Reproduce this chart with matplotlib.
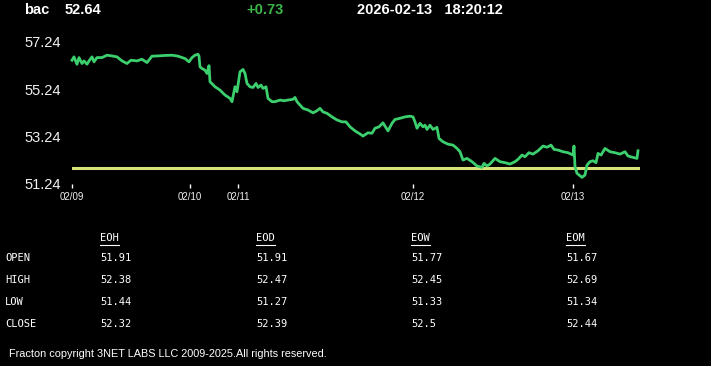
import matplotlib
matplotlib.use('Agg')
import matplotlib.pyplot as plt
from matplotlib.lines import Line2D

W, H = 711, 366

# Price trace (bar index, price)
BARS = [0, 2, 5, 7, 10, 12, 15, 17, 20, 22, 25, 30, 35, 40, 45, 50, 55, 59, 65, 70,
        75, 80, 86, 93, 100, 106, 113, 117, 120, 123, 126, 127, 128, 130, 133, 135, 137, 138, 143, 148,
        153, 158, 160, 163, 165, 168, 171, 173, 175, 178, 181, 184, 186, 189, 191, 194, 196, 200, 203, 208,
        212, 216, 221, 223, 225, 228, 231, 236, 241, 245, 248, 251, 255, 260, 265, 270, 274, 278, 283, 288,
        291, 296, 300, 303, 307, 311, 313, 316, 320, 323, 328, 333, 338, 341, 343, 345, 348, 351, 353, 355,
        358, 361, 365, 367, 371, 376, 381, 385, 388, 391, 395, 400, 405, 410, 412, 415, 418, 423, 428, 433,
        438, 443, 446, 450, 453, 457, 461, 466, 471, 475, 479, 482, 486, 491, 496, 501, 502, 503, 505, 510,
        513, 515, 518, 521, 524, 526, 529, 533, 538, 543, 548, 553, 556, 561, 565, 566]
PRICES = [56.46, 56.60, 56.29, 56.57, 56.32, 56.43, 56.29, 56.43, 56.60, 56.39, 56.57, 56.57, 56.67, 56.64, 56.60, 56.43, 56.32, 56.46, 56.43, 56.50,
          56.36, 56.63, 56.64, 56.66, 56.67, 56.63, 56.53, 56.39, 56.57, 56.67, 56.71, 56.63, 56.18, 56.11, 56.04, 55.90, 56.23, 55.55, 55.34, 55.20,
          54.99, 54.85, 54.71, 55.34, 55.13, 55.97, 56.07, 55.90, 55.48, 55.34, 55.31, 55.48, 55.31, 55.41, 55.27, 55.34, 54.85, 54.71, 54.71, 54.78,
          54.75, 54.78, 54.81, 54.89, 54.71, 54.57, 54.43, 54.36, 54.24, 54.33, 54.43, 54.28, 54.22, 54.07, 53.94, 53.86, 53.86, 53.65, 53.48, 53.35,
          53.26, 53.40, 53.38, 53.59, 53.65, 53.82, 53.68, 53.48, 53.80, 53.96, 54.01, 54.07, 54.10, 54.07, 53.86, 53.59, 53.80, 53.65, 53.72, 53.54,
          53.72, 53.54, 53.63, 53.16, 53.02, 52.92, 52.88, 52.74, 52.60, 52.25, 52.32, 52.18, 52.00, 51.94, 52.11, 52.00, 52.08, 52.32, 52.18, 52.14,
          52.08, 52.18, 52.28, 52.46, 52.39, 52.56, 52.50, 52.64, 52.84, 52.79, 52.88, 52.70, 52.67, 52.60, 52.56, 52.46, 52.84, 51.97, 51.69, 51.52,
          51.62, 52.04, 52.18, 52.22, 52.14, 52.53, 52.46, 52.74, 52.60, 52.56, 52.50, 52.60, 52.42, 52.36, 52.32, 52.64]
REF_LEVEL = 51.91

DATE_POS = [0, 118, 166, 341, 501]
DATE_LABELS = ['02/09', '02/10', '02/11', '02/12', '02/13']
Y_TICKS = [51.24, 53.24, 55.24, 57.24]

# OHLC summary table
COLS = ['EOH', 'EOD', 'EOW', 'EOM']
ROWS = ['OPEN', 'HIGH', 'LOW', 'CLOSE']
TABLE = [['51.91', '51.91', '51.77', '51.67'],
         ['52.38', '52.47', '52.45', '52.69'],
         ['51.44', '51.27', '51.33', '51.34'],
         ['52.32', '52.39', '52.5', '52.44']]

fig = plt.figure(figsize=(W / 100, H / 100), dpi=100, facecolor='black')


def fx(px):
    return px / W


def fy(py):
    return 1 - py / H


ax = fig.add_axes([fx(72), fy(184), fx(640) - fx(72), fy(41.7) - fy(184)])
ax.set_facecolor('black')
ax.plot(BARS, PRICES, color='#3ccf6e', lw=2.0, clip_on=False, zorder=3)
ax.axhline(REF_LEVEL, color='#d7e37a', lw=2.2, zorder=2)
ax.set_xlim(0, 568)
ax.set_ylim(51.24, 57.24)
for s in ax.spines.values():
    s.set_visible(False)
ax.set_yticks(Y_TICKS)
ax.set_yticklabels([f'{v:.2f}' for v in Y_TICKS], family='Liberation Sans', fontsize=10.5, color='#f0f0f0')
ax.tick_params(axis='y', length=0, pad=8)
ax.set_xticks(DATE_POS)
ax.set_xticklabels(DATE_LABELS, family='Liberation Sans', fontsize=7, color='#f0f0f0')
ax.tick_params(axis='x', length=3, width=1, color='white', pad=3, direction='out')

# header
hdr = dict(family='Liberation Sans', fontsize=10.5, fontweight='bold', va='center', ha='left')
fig.text(fx(24), fy(9.5), 'bac', color='white', **hdr)
fig.text(fx(65), fy(9.5), '52.64', color='white', **hdr)
fig.text(fx(246), fy(9.5), '+0.73', color='#3cb648', **hdr)
fig.text(fx(357), fy(9.5), '2026-02-13   18:20:12', color='white', **hdr)

# table
mono = dict(family='DejaVu Sans Mono', fontsize=7.5, color='white', va='center', ha='left')
col_x = [100, 256, 411, 566]
row_y = [258, 280, 302, 324]
for cx, name in zip(col_x, COLS):
    fig.text(fx(cx), fy(238), name, **mono)
    fig.add_artist(Line2D([fx(cx), fx(cx + 19)], [fy(244.5), fy(244.5)], color='white', lw=0.8))
for ry, name, vals in zip(row_y, ROWS, TABLE):
    fig.text(fx(5), fy(ry), name, **mono)
    for cx, v in zip(col_x, vals):
        fig.text(fx(cx), fy(ry), v, **mono)

fig.text(fx(9), fy(354), 'Fracton copyright 3NET LABS LLC 2009-2025.All rights reserved.',
         family='Liberation Sans', fontsize=7.8, color='white', va='center', ha='left')

fig.savefig('out.png', dpi=100, facecolor='black')
